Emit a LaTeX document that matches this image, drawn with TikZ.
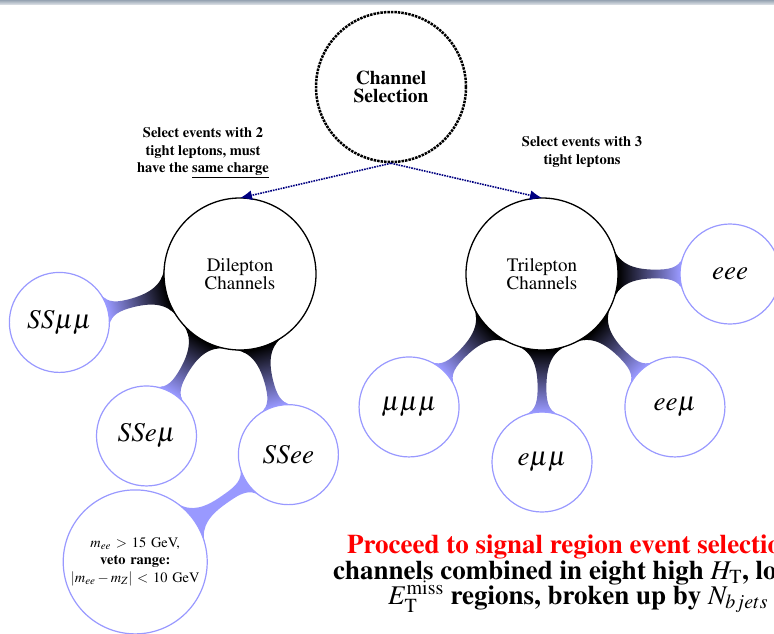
\documentclass[tikz,border=0pt]{standalone}
\usepackage[T1]{fontenc}
\usepackage{mathptmx}
\usetikzlibrary{mindmap,arrows.meta}
\definecolor{leafcolor}{rgb}{0.6,0.6,1}
\definecolor{arrowcolor}{rgb}{0,0,0.5}
\definecolor{barcolor}{RGB}{150,163,178}
\definecolor{signalcolor}{rgb}{1,0,0}

\tikzset{
	chan/.style={concept, fill=white, draw=black, line width=1.3pt, minimum size=152pt,
		text width=120pt, align=center, font=\fontsize{19}{17.5}\selectfont},
	leaf/.style={concept, fill=white, draw=leafcolor, line width=1.2pt, minimum size=100pt,
		text width=90pt, align=center, font=\fontsize{27}{27}\selectfont},
	veto/.style={minimum size=144pt, text width=130pt, font=\fontsize{14.4}{17.5}\selectfont},
	selarrow/.style={arrowcolor, line width=1.6pt, densely dotted, -{Latex[length=12pt,width=10pt]}},
	cutlabel/.style={align=center, font=\bfseries\fontsize{14.5}{17.5}\selectfont},
	signaltext/.style={anchor=base west, inner sep=0pt, font=\bfseries\fontsize{27}{25}\selectfont}
}

\begin{document}
\begin{tikzpicture}[x=1pt,y=-1pt]

\useasboundingbox (0,0) rectangle (774,633);
\clip (0,0) rectangle (774,633);

% slide header
\shade[top color=barcolor, bottom color=barcolor!40] (0,0) rectangle (774,4);

% selection
\node [circle, draw=black, line width=2.5pt, densely dotted, minimum size=150pt,
	align=center, font=\bfseries\fontsize{19.5}{18}\selectfont] (sel) at (391,87) {Channel\\Selection};

% dilepton branch
\path[mindmap, concept color=black, level 1/.append style={level distance=187pt},
	level 2/.append style={level distance=187pt}]
	node[chan] (dil) at (240,274) {Dilepton\\Channels}
		child[grow=195, concept color=leafcolor] {node[leaf] (ssmm) {$SS\mu\mu$}}
		child[grow=240, concept color=leafcolor] {node[leaf] (ssem) {$SSe\mu$}}
		child[grow=285, concept color=leafcolor] {node[leaf] (ssee) {$SSee$}
			child[grow=215] {node[leaf, veto] (eecut) {$m_{ee}$ $>$ 15 GeV,\\
				\textbf{veto range:}\\
				$|m_{ee}-m_Z|$ $<$ 10 GeV}}};

% trilepton branch
\path[mindmap, concept color=black, level 1/.append style={level distance=188pt}]
	node[chan] (tri) at (542,274) {Trilepton\\Channels}
		child[grow=0, concept color=leafcolor] {node[leaf] (eee) {$eee$}}
		child[grow=-45, concept color=leafcolor] {node[leaf] (eem) {$ee\mu$}}
		child[grow=-90, concept color=leafcolor] {node[leaf] (emm) {$e\mu\mu$}}
		child[grow=-135, concept color=leafcolor] {node[leaf] (mmm) {$\mu\mu\mu$}};

% arrows from selection
\draw[selarrow] (sel.south) -- (dil.north);
\draw[selarrow] (sel.south) -- (tri.north);

\node[cutlabel] (twolep) at (203,153) {Select events with 2\\tight leptons, must\\have the \underline{same charge}};
\node[cutlabel] (threelep) at (582,152) {Select events with 3\\tight leptons};

% next step
\node[signaltext, signalcolor] (sr1) at (347,553) {Proceed to signal region event selection};
\node[signaltext] (sr2) at (333,579) {channels combined in eight high $H_{\mathrm{T}}$, low};
\node[signaltext] (sr3) at (388,604) {$E_{\mathrm{T}}^{\mathrm{miss}}$ regions, broken up by $N_{bjets}$};

\end{tikzpicture}
\end{document}
